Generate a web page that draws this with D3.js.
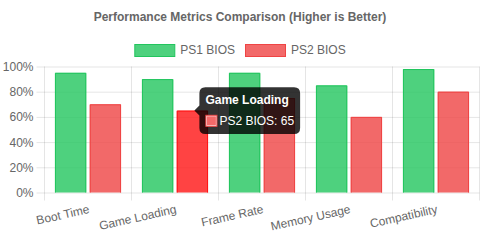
<!DOCTYPE html>
<html>
<head>
  <meta charset="utf-8">
  <script src="https://cdn.jsdelivr.net/npm/d3@7"></script>
  <style>
    body { margin: 0; background: #fff; }
    svg text { font-family: "Helvetica Neue", Helvetica, Arial, sans-serif; }
  </style>
</head>
<body>
<script>
  // chart data
  var categories = ["Boot Time", "Game Loading", "Frame Rate", "Memory Usage", "Compatibility"];
  var seriesNames = ["PS1 BIOS", "PS2 BIOS"];
  var ps1Values = [95, 90, 95, 85, 98];
  var ps2Values = [70, 65, 75, 60, 80];
  var yTicks = [0, 20, 40, 60, 80, 100];
  var title = "Performance Metrics Comparison (Higher is Better)";

  // hovered bar that shows the tooltip
  var hoverCat = "Game Loading", hoverSeries = "PS2 BIOS";

  var fills = ["rgba(34,197,94,0.8)", "rgba(239,68,68,0.8)"];
  var borders = ["rgb(34,197,94)", "rgb(239,68,68)"];
  var hoverFill = "rgba(255,20,20,0.8)", hoverBorder = "rgb(255,20,20)";
  var gridColor = "rgba(0,0,0,0.1)", textColor = "#666";

  var series = seriesNames.map(function(name, i) {
    return { name: name, values: i === 0 ? ps1Values : ps2Values, fill: fills[i], border: borders[i] };
  });

  var W = 480, H = 240;
  // plot area (note: "top" is reserved on window, so use prefixed names)
  var pLeft = 44.5, pRight = 479.5, pTop = 66.5, pBottom = 192.5;

  var svg = d3.select("body").append("svg")
    .attr("width", W).attr("height", H);

  // title
  svg.append("text")
    .attr("x", W / 2).attr("y", 16.7)
    .attr("text-anchor", "middle")
    .attr("dominant-baseline", "central")
    .attr("font-size", 12).attr("font-weight", "bold")
    .attr("fill", textColor)
    .text(title);

  // legend, centered
  var legend = svg.append("g");
  var lx = 0;
  series.forEach(function(s) {
    var g = legend.append("g");
    g.append("rect").attr("x", 0.5).attr("y", 44.5).attr("width", 40).attr("height", 12)
      .attr("fill", s.fill).attr("stroke", s.border).attr("stroke-width", 1);
    var t = g.append("text").attr("x", 46).attr("y", 50)
      .attr("dominant-baseline", "central")
      .attr("font-size", 12).attr("fill", textColor).text(s.name);
    var w = 46 + t.node().getComputedTextLength();
    g.attr("transform", "translate(" + lx + ",0)");
    lx += w + 10;
  });
  legend.attr("transform", "translate(" + ((W - (lx - 10)) / 2) + ",0)");

  // scales
  var x = d3.scaleBand().domain(categories).range([pLeft, pRight]).padding(0);
  var xInner = d3.scaleBand().domain(seriesNames)
    .range([x.bandwidth() * 0.1, x.bandwidth() * 0.9])
    .paddingInner(0.1).paddingOuter(0.05);
  var y = d3.scaleLinear().domain([0, 100]).range([pBottom, pTop]);

  // y axis with gridlines
  var yAxis = svg.append("g")
    .attr("transform", "translate(" + (pLeft - 8) + ",0)")
    .call(d3.axisLeft(y).tickValues(yTicks)
      .tickSize(-(pRight - pLeft + 8)).tickSizeOuter(0).tickPadding(3)
      .tickFormat(function(d) { return d + "%"; }));
  yAxis.select(".domain").remove();
  yAxis.selectAll("line").attr("stroke", gridColor);
  yAxis.selectAll("text").attr("font-size", 12).attr("fill", textColor)
    .attr("dy", null).attr("dominant-baseline", "central");
  yAxis.attr("font-family", null);

  // vertical gridlines at category boundaries
  var bounds = categories.map(function(c) { return x(c); }).concat([pRight]);
  svg.append("g").selectAll("line").data(bounds).join("line")
    .attr("x1", function(d) { return Math.round(d - 0.5) + 0.5; })
    .attr("x2", function(d) { return Math.round(d - 0.5) + 0.5; })
    .attr("y1", pTop).attr("y2", pBottom + 8)
    .attr("stroke", gridColor);

  // x axis labels
  var xAxis = svg.append("g")
    .attr("transform", "translate(0," + pBottom + ")")
    .call(d3.axisBottom(x).tickSize(0).tickSizeOuter(0));
  xAxis.select(".domain").remove();
  xAxis.attr("font-family", null);
  xAxis.selectAll("text")
    .attr("font-size", 12).attr("fill", textColor)
    .attr("text-anchor", "end")
    .attr("y", 0).attr("dy", "0.8em")
    .attr("transform", "translate(0,11) rotate(-12.5)");

  // bars
  var groups = svg.append("g").selectAll("g").data(categories).join("g")
    .attr("transform", function(c) { return "translate(" + x(c) + ",0)"; });

  groups.each(function(c, ci) {
    var g = d3.select(this);
    series.forEach(function(s) {
      var v = s.values[ci];
      var hov = (c === hoverCat && s.name === hoverSeries);
      var x0 = xInner(s.name), bw = xInner.bandwidth();
      var y0 = y(v);
      g.append("rect")
        .attr("x", x0).attr("y", y0)
        .attr("width", bw).attr("height", pBottom - y0)
        .attr("fill", hov ? hoverFill : s.fill);
      g.append("path")
        .attr("d", "M" + (x0 + 0.5) + "," + pBottom + "V" + (y0 + 0.5) +
          "H" + (x0 + bw - 0.5) + "V" + pBottom)
        .attr("fill", "none")
        .attr("stroke", hov ? hoverBorder : s.border)
        .attr("stroke-width", 1);
    });
  });

  // tooltip
  var hs = series.filter(function(s) { return s.name === hoverSeries; })[0];
  var hv = hs.values[categories.indexOf(hoverCat)];
  var tipX = x(hoverCat) + xInner(hoverSeries) + xInner.bandwidth() / 2 + 2;
  var tipY = y(hv);
  var tip = svg.append("g");
  var bg = tip.append("path").attr("fill", "rgba(0,0,0,0.8)");
  var boxX = tipX + 5, pad = 6, lh = 14.4;
  var boxH = pad * 2 + lh * 2 + 6;
  var boxY = tipY - boxH / 2;
  var tTitle = tip.append("text")
    .attr("x", boxX + pad).attr("y", boxY + pad + lh / 2)
    .attr("dominant-baseline", "central")
    .attr("font-size", 12).attr("font-weight", "bold").attr("fill", "#fff")
    .text(hoverCat);
  var tBody = tip.append("text")
    .attr("x", boxX + pad + 14).attr("y", boxY + pad + lh + 6 + lh / 2)
    .attr("dominant-baseline", "central")
    .attr("font-size", 12).attr("fill", "#fff")
    .text(hoverSeries + ": " + hv);
  var cy = boxY + pad + lh + 6 + 1.2;
  tip.append("rect").attr("x", boxX + pad + 0.5).attr("y", cy + 0.5)
    .attr("width", 11).attr("height", 11)
    .attr("fill", "#fff").attr("stroke", hs.border).attr("stroke-width", 1);
  tip.append("rect").attr("x", boxX + pad + 1.5).attr("y", cy + 1.5)
    .attr("width", 9).attr("height", 9).attr("fill", hs.fill);
  var boxW = pad * 2 + Math.max(tTitle.node().getComputedTextLength(),
    14 + tBody.node().getComputedTextLength());
  var r = 6, x1 = boxX, y1 = boxY, x2 = boxX + boxW, y2 = boxY + boxH;
  bg.attr("d",
    "M" + (x1 + r) + "," + y1 + "H" + (x2 - r) + "Q" + x2 + "," + y1 + " " + x2 + "," + (y1 + r) +
    "V" + (y2 - r) + "Q" + x2 + "," + y2 + " " + (x2 - r) + "," + y2 +
    "H" + (x1 + r) + "Q" + x1 + "," + y2 + " " + x1 + "," + (y2 - r) +
    "V" + (tipY + 5) + "L" + tipX + "," + tipY + "L" + x1 + "," + (tipY - 5) +
    "V" + (y1 + r) + "Q" + x1 + "," + y1 + " " + (x1 + r) + "," + y1 + "Z");
</script>
</body>
</html>
